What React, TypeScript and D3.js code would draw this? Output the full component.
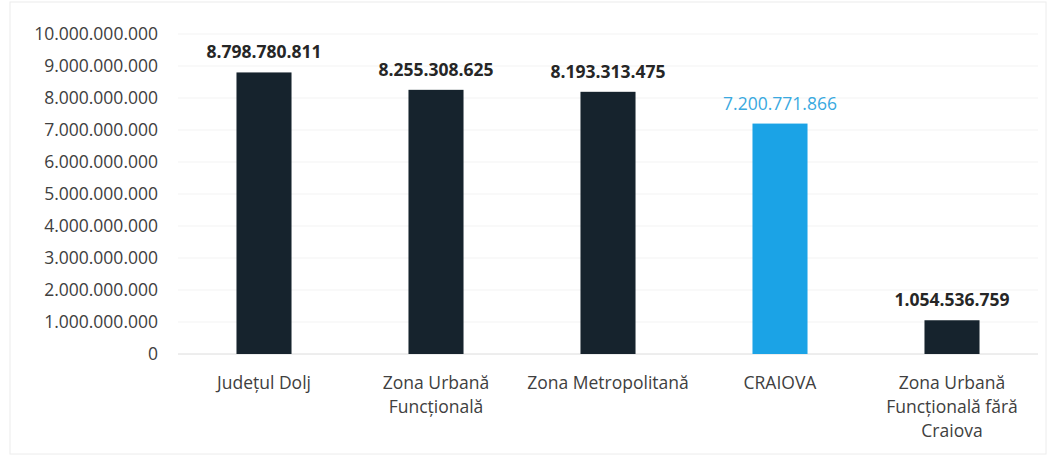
import React from "react";
import * as d3 from "d3";

const categories: string[][] = [
  ["Județul Dolj"],
  ["Zona Urbană", "Funcțională"],
  ["Zona Metropolitană"],
  ["CRAIOVA"],
  ["Zona Urbană", "Funcțională fără", "Craiova"],
];
const values: number[] = [8798780811, 8255308625, 8193313475, 7200771866, 1054536759];
const highlight: boolean[] = [false, false, false, true, false];
const yTicks: number[] = [0, 1e9, 2e9, 3e9, 4e9, 5e9, 6e9, 7e9, 8e9, 9e9, 10e9];

const W = 1048;
const H = 457;
const FONT = "'Open Sans', 'Noto Sans', sans-serif";

const fmt = (v: number) => d3.format(",")(v).replace(/,/g, ".");

export default function App() {
  const y = d3.scaleLinear().domain([0, 10e9]).range([354, 34]);
  const x = d3
    .scaleBand<number>()
    .domain(values.map((_, i) => i))
    .range([178, 1038])
    .paddingInner(0.68)
    .paddingOuter(0.34);

  return (
    <svg width={W} height={H} style={{ position: "absolute", left: 0, top: 0, background: "#fff" }}>
      <rect x={10} y={2} width={1036} height={452} fill="#fff" stroke="#ececec" />
      {yTicks.map((t) => (
        <g key={t}>
          <line x1={178} x2={1038} y1={y(t)} y2={y(t)} stroke={t === 0 ? "#dcdcdc" : "#f3f3f3"} />
          <text
            x={158}
            y={y(t)}
            dy="0.36em"
            textAnchor="end"
            fontFamily={FONT}
            fontSize={17.5}
            fill="#404040"
          >
            {fmt(t)}
          </text>
        </g>
      ))}
      {values.map((v, i) => {
        const cx = (x(i) as number) + x.bandwidth() / 2;
        return (
          <g key={i}>
            <rect
              x={x(i)}
              y={y(v)}
              width={x.bandwidth()}
              height={y(0) - y(v)}
              fill={highlight[i] ? "#1ba3e6" : "#16232d"}
            />
            <text
              x={cx}
              y={y(v) - 14}
              textAnchor="middle"
              fontFamily={FONT}
              fontSize={17.5}
              fontWeight={highlight[i] ? 400 : 700}
              fill={highlight[i] ? "#3aa9e0" : "#262626"}
            >
              {fmt(v)}
            </text>
            {categories[i].map((line, j) => (
              <text
                key={j}
                x={cx}
                y={389 + j * 24}
                textAnchor="middle"
                fontFamily={FONT}
                fontSize={17.5}
                fill="#404040"
              >
                {line}
              </text>
            ))}
          </g>
        );
      })}
    </svg>
  );
}
